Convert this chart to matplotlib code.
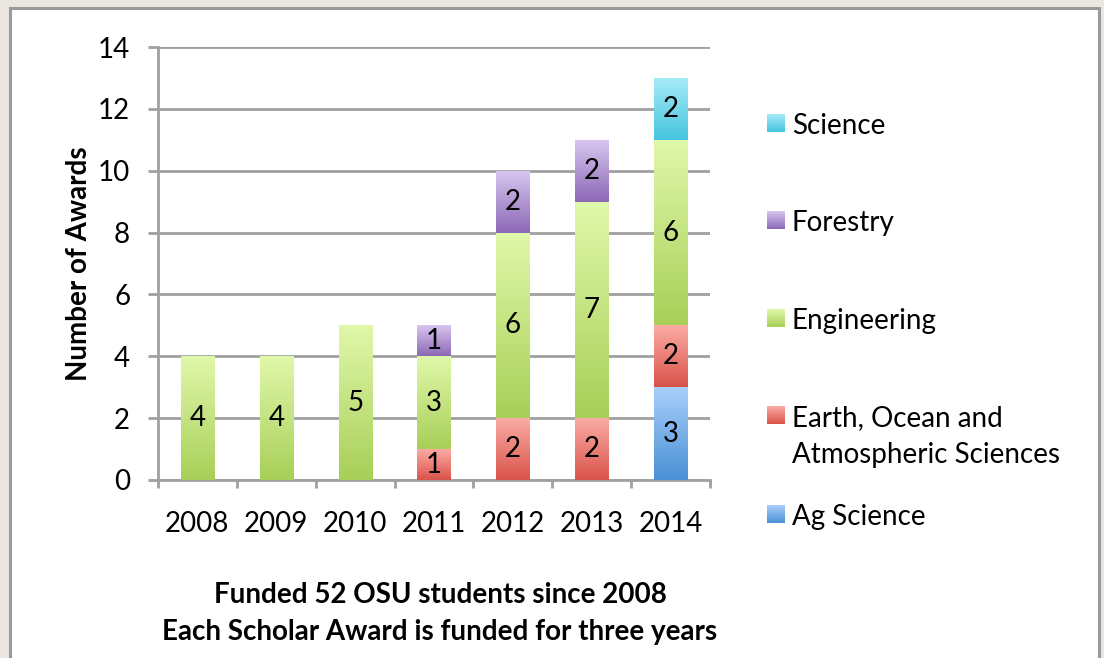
import numpy as np
import matplotlib
matplotlib.use('Agg')
import matplotlib.pyplot as plt
from matplotlib.colors import LinearSegmentedColormap
from matplotlib.patches import Rectangle

plt.rcParams['font.family'] = ['Lato', 'DejaVu Sans']

W, H = 1104, 658

years = ['2008', '2009', '2010', '2011', '2012', '2013', '2014']
ag_science = [0, 0, 0, 0, 0, 0, 3]
earth_ocean = [0, 0, 0, 1, 2, 2, 2]
engineering = [4, 4, 5, 3, 6, 7, 6]
forestry = [0, 0, 0, 1, 2, 2, 0]
science = [0, 0, 0, 0, 0, 0, 2]

series_names = ['Ag Science', 'Earth, Ocean and\nAtmospheric Sciences',
                'Engineering', 'Forestry', 'Science']
series_values = [ag_science, earth_ocean, engineering, forestry, science]
# (bottom colour, top colour) for the gradient fill
series_colors = [('#4a90d6', '#a9cffa'),
                 ('#d9534a', '#fbaca4'),
                 ('#a8cf58', '#e0f8aa'),
                 ('#8c68b5', '#d8c6f0'),
                 ('#46c4de', '#a6ebf8')]

GRID = '#a0a0a0'
FS = 20


def px(x, y):
    return x / W, 1 - y / H


fig = plt.figure(figsize=(W / 100, H / 100), dpi=100)
fig.patch.set_facecolor('#ebe7e0')
fig.patches.append(Rectangle(px(10, 700), (1099 - 10) / W, (700 - 8) / H,
                             transform=fig.transFigure, facecolor='white',
                             edgecolor='#9a9a9a', linewidth=2.2, zorder=-10))

ax = fig.add_axes([158 / W, 1 - 480 / H, (710 - 158) / W, (480 - 47) / H])
ax.set_facecolor('none')

x = np.arange(len(years))
bottom = np.zeros(len(years))
gradient = np.linspace(0, 1, 256).reshape(-1, 1)
for vals, (c0, c1) in zip(series_values, series_colors):
    vals = np.array(vals, dtype=float)
    bars = ax.bar(x, vals, width=0.42, bottom=bottom, color=c1,
                  linewidth=0, zorder=2)
    cmap = LinearSegmentedColormap.from_list('g', [c0, c1])
    for rect, v in zip(bars, vals):
        if v <= 0:
            continue
        bx, by = rect.get_x(), rect.get_y()
        bw, bh = rect.get_width(), rect.get_height()
        im = ax.imshow(gradient, extent=[bx, bx + bw, by, by + bh],
                       origin='lower', aspect='auto', cmap=cmap, zorder=3)
        im.set_clip_path(rect)
        ax.text(bx + bw / 2, by + bh / 2, '%d' % v, ha='center',
                va='center', fontsize=FS, color='black', zorder=4)
    bottom += vals

ax.set_xlim(-0.5, len(years) - 0.5)
ax.set_ylim(0, 14)
ax.set_yticks(np.arange(0, 15, 2))
ax.set_xticks(x)
ax.set_xticklabels(years)
ax.set_xticks(np.arange(-0.5, len(years)), minor=True)
ax.yaxis.grid(True, color=GRID, linewidth=2, zorder=1)
ax.set_axisbelow(True)
for s in ['top', 'right']:
    ax.spines[s].set_visible(False)
for s in ['left', 'bottom']:
    ax.spines[s].set_color(GRID)
    ax.spines[s].set_linewidth(2)
ax.tick_params(axis='y', length=7, width=2, color=GRID, pad=13, labelsize=FS)
ax.tick_params(axis='x', which='major', length=0, pad=22, labelsize=FS)
ax.tick_params(axis='x', which='minor', length=6, width=2, color=GRID)
ax.set_ylabel('Number of Awards', fontsize=FS, fontweight='bold', labelpad=4)

# legend drawn by hand so the squares line up with the first text line
leg_y = [514, 415, 318, 220, 123]
for name, (c0, c1), ly in zip(series_names, series_colors, leg_y):
    lx0, ly0 = px(767, ly + 9)
    sq = fig.add_axes([lx0, ly0, 18 / W, 18 / H])
    sq.imshow(gradient, origin='lower', aspect='auto',
              cmap=LinearSegmentedColormap.from_list('g', [c0, c1]))
    sq.axis('off')
    nlines = name.count('\n')
    tx, ty = px(792, ly + 3 + nlines * 18.5)
    fig.text(tx, ty, name, ha='left', va='center', fontsize=FS,
             linespacing=1.55)

fig.text(*px(440, 595), 'Funded 52 OSU students since 2008', ha='center',
         va='center', fontsize=FS, fontweight='bold')
fig.text(*px(440, 632), 'Each Scholar Award is funded for three years',
         ha='center', va='center', fontsize=FS, fontweight='bold')

fig.savefig('out.png', dpi=100, facecolor=fig.get_facecolor())
